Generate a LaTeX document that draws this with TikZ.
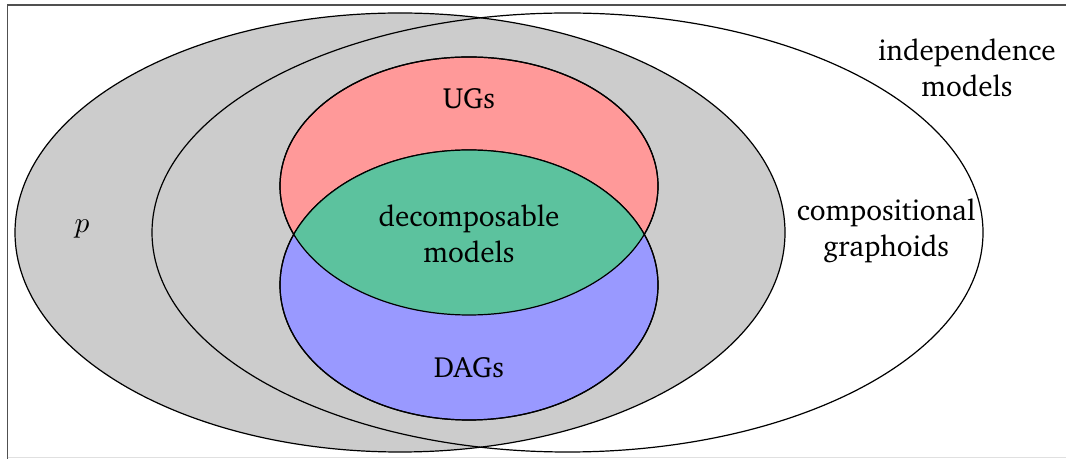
\documentclass[tikz,border=0pt]{standalone}
\usepackage[T1]{fontenc}
\usepackage{charter}
\usetikzlibrary{shapes.geometric}
\definecolor{grayfill}{RGB}{204,204,204}
\definecolor{redfill}{RGB}{255,153,153}
\definecolor{bluefill}{RGB}{153,153,255}
\definecolor{greenfill}{RGB}{92,194,158}
\definecolor{framegray}{RGB}{80,80,80}
\tikzset{
  set/.style={ellipse, draw=black, line width=0.45pt, inner sep=0pt},
  lbl/.style={font=\fontsize{10.9}{13.4}\selectfont, align=center, inner sep=0pt},
}
\begin{document}
\begin{tikzpicture}[x=0.0131cm, y=-0.0131cm]
\useasboundingbox (0,0) rectangle (1066,459);
% frame
\draw[framegray, line width=0.6pt] (7.5,459) -- (7.5,5) -- (1066,5);
\draw[black!12, line width=0.5pt] (7.5,457.5) -- (1066,457.5);
% big sets
\node[set, fill=grayfill, minimum width=770*0.0131cm, minimum height=439*0.0131cm] (p) at (400,232.5) {};
\node[set, minimum width=831*0.0131cm, minimum height=439*0.0131cm] (cg) at (567.5,232.5) {};
% small sets
\node[set, fill=redfill, minimum width=378*0.0131cm, minimum height=258*0.0131cm] (ug) at (469,186) {};
\node[set, fill=bluefill, minimum width=378*0.0131cm, minimum height=270*0.0131cm] (dag) at (469,285) {};
\begin{scope}
  \clip (ug.center) ellipse [x radius=189, y radius=129];
  \fill[greenfill] (dag.center) ellipse [x radius=189, y radius=135];
\end{scope}
\node[set, minimum width=378*0.0131cm, minimum height=258*0.0131cm] at (ug.center) {};
\node[set, minimum width=378*0.0131cm, minimum height=270*0.0131cm] at (dag.center) {};
% labels
\node[lbl] (lim) at (967,68) {independence\\models};
\node[lbl] (lcg) at (886,231) {compositional\\graphoids};
\node[lbl] (lp) at (82,229) {$p$};
\node[lbl] (lug) at (469,99) {UGs};
\node[lbl] (ldm) at (469,234) {decomposable\\models};
\node[lbl] (ldag) at (469,368) {DAGs};
\end{tikzpicture}
\end{document}
